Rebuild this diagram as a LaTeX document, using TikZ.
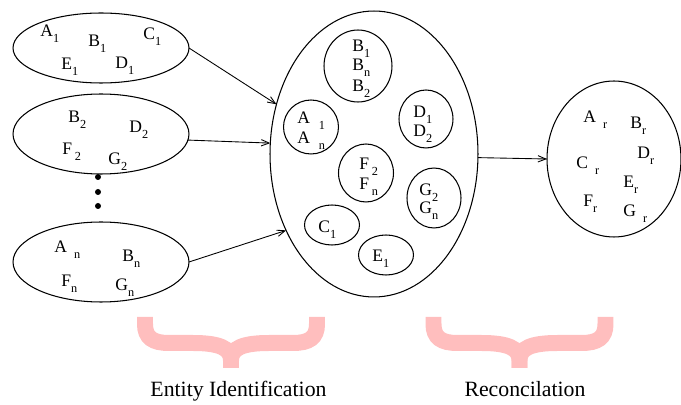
\documentclass[tikz,border=0pt]{standalone}
\usepackage{fontspec}
\setmainfont{Liberation Serif}
\usetikzlibrary{arrows.meta,shapes.geometric}

\definecolor{bracepink}{RGB}{255,190,190}
\newcommand{\sbs}[1]{\raisebox{-3pt}{\fontsize{7}{8}\selectfont #1}}

\begin{document}
\begin{tikzpicture}[x=0.02cm,y=-0.02cm,
    blob/.style={draw,ellipse,line width=0.6pt,inner sep=0pt,outer sep=0pt},
    lbl/.style={anchor=base west,inner sep=0pt,font=\fontsize{10}{12}\selectfont},
    link/.style={-{Straight Barb[length=4.5pt,width=3.6pt]},line width=0.5pt},
    bracestroke/.style={bracepink,line width=0.32cm},
    caption/.style={anchor=base,inner sep=0pt,font=\fontsize{12.4}{14}\selectfont}]

\useasboundingbox (0,0) rectangle (681,405);

% === Source tables ===
\node[blob,minimum width=3.52cm,minimum height=1.4cm] (src1) at (101,48) {};
\node[lbl] (sa1) at (40,37) {A\sbs{1}};
\node[lbl] (sb1) at (88,47) {B\sbs{1}};
\node[lbl] (sc1) at (143,40) {C\sbs{1}};
\node[lbl] (se1) at (61,70) {E\sbs{1}};
\node[lbl] (sd1) at (115,69) {D\sbs{1}};

\node[blob,minimum width=3.52cm,minimum height=1.6cm] (src2) at (101,134) {};
\node[lbl] (sb2) at (68,123) {B\sbs{2}};
\node[lbl] (sd2) at (129,133) {D\sbs{2}};
\node[lbl] (sf2) at (62,155) {F\hspace{1.5pt}\sbs{2}};
\node[lbl] (sg2) at (108,165) {G\sbs{2}};

% dots
\foreach \y in {177,192,206} {
    \fill (98,\y) circle (3);
}

\node[blob,minimum width=3.52cm,minimum height=1.6cm] (srcn) at (101,262) {};
\node[lbl] (san) at (54,253) {A\hspace{4pt}\sbs{n}};
\node[lbl] (sbn) at (122,262) {B\sbs{n}};
\node[lbl] (sfn) at (61,287) {F\sbs{n}};
\node[lbl] (sgn) at (115,291) {G\sbs{n}};

% === Identified entities ===
\node[blob,minimum width=4.16cm,minimum height=5.72cm] (ident) at (374,154) {};

\node[blob,minimum width=1.36cm,minimum height=1.44cm] (grpb) at (358,66) {};
\node[lbl] (ib1) at (352,52) {B\sbs{1}};
\node[lbl] (ibn) at (352,71) {B\sbs{n}};
\node[lbl] (ib2) at (352,92) {B\sbs{2}};

\node[blob,minimum width=1.1cm,minimum height=1.08cm] (grpa) at (311,127) {};
\node[lbl] (ia1) at (297,124) {A\hspace{5pt}\sbs{1}};
\node[lbl] (ian) at (297,144) {A\hspace{5pt}\sbs{n}};

\node[blob,minimum width=1.08cm,minimum height=1.16cm] (grpd) at (426,119) {};
\node[lbl] (id1) at (413,118) {D\sbs{1}};
\node[lbl] (id2) at (413,137) {D\sbs{2}};

\node[blob,minimum width=1.1cm,minimum height=1.16cm] (grpf) at (366,173) {};
\node[lbl] (if2) at (359,170) {F\hspace{1.5pt}\sbs{2}};
\node[lbl] (ifn) at (359,190) {F\hspace{1.5pt}\sbs{n}};

\node[blob,minimum width=1.08cm,minimum height=1.2cm] (grpg) at (434,198) {};
\node[lbl] (ig2) at (419,196) {G\sbs{2}};
\node[lbl] (ign) at (419,214) {G\sbs{n}};

\node[blob,minimum width=1.1cm,minimum height=0.8cm] (grpc) at (332,225) {};
\node[lbl] (ic1) at (318,233) {C\sbs{1}};

\node[blob,minimum width=1.1cm,minimum height=0.8cm] (grpe) at (386,255) {};
\node[lbl] (ie1) at (372,262) {E\sbs{1}};

% === Reconciled entities ===
\node[blob,minimum width=2.68cm,minimum height=3.12cm] (recon) at (614,159) {};
\node[lbl] (ra) at (583,123) {A\hspace{4pt}\sbs{r}};
\node[lbl] (rb) at (630,129) {B\sbs{r}};
\node[lbl] (rd) at (637,159) {D\sbs{r}};
\node[lbl] (rc) at (576,169) {C\hspace{4pt}\sbs{r}};
\node[lbl] (re) at (623,188) {E\sbs{r}};
\node[lbl] (rf) at (583,207) {F\sbs{r}};
\node[lbl] (rg) at (623,217) {G\hspace{4pt}\sbs{r}};

% === Links ===
\draw[link] (src1.east) -- (ident.153);
\draw[link] (src2.-4) -- (ident.174);
\draw[link] (srcn.east) -- (ident.221);
\draw[link] (ident.-2) -- (recon.west);

% === Braces ===
\foreach \m in {231,519.5} {
    \draw[bracestroke] (\m-86,317) -- (\m-86,324) .. controls (\m-86,338) and (\m-78,343) .. (\m-62,343)
        -- (\m-38,343) .. controls (\m-12,343) and (\m,348) .. (\m,360) -- (\m,368);
    \draw[bracestroke] (\m+86,317) -- (\m+86,324) .. controls (\m+86,338) and (\m+78,343) .. (\m+62,343)
        -- (\m+38,343) .. controls (\m+12,343) and (\m,348) .. (\m,360) -- (\m,368);
}

% === Stage names ===
\node[caption] (stage1) at (238.5,397) {Entity Identification};
\node[caption] (stage2) at (525,397) {Reconcilation};

\end{tikzpicture}
\end{document}
